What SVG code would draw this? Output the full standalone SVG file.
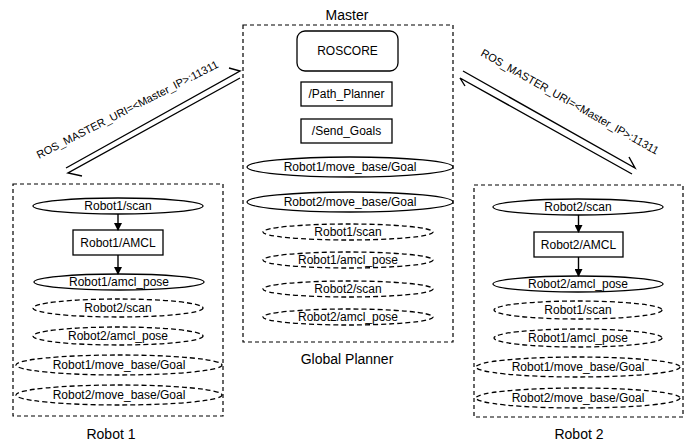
<svg xmlns="http://www.w3.org/2000/svg" width="686" height="441" viewBox="0 0 686 441">
<style>
text{font-family:"Liberation Sans",Arial,sans-serif;font-size:12px;fill:#000;text-anchor:middle}
.t14{font-size:14px}
.lbl{font-size:11px}
.box{fill:none;stroke:#000;stroke-width:1.2;stroke-dasharray:4 3}
.sol{fill:#fff;stroke:#000;stroke-width:1.3}
.das{fill:#fff;stroke:#000;stroke-width:1.3;stroke-dasharray:5 3}
.ln{fill:none;stroke:#000;stroke-width:1.4}
</style>
<defs>
<marker id="ah" markerWidth="8" markerHeight="8" refX="7" refY="4" orient="auto" markerUnits="userSpaceOnUse">
<path d="M0,0 L8,4 L0,8 z" fill="#000"/>
</marker>
</defs>
<rect width="686" height="441" fill="#fff"/>

<g id="master">
<rect class="box" x="243" y="25" width="210" height="317"/>
<text class="t14" x="347" y="20">Master</text>
<text class="t14" x="347" y="364">Global Planner</text>
</g>
<g id="roscore"><rect class="sol" x="297" y="31" width="101" height="40" rx="8"/><text x="347.5" y="55">ROSCORE</text></g>
<g id="path_planner"><rect class="sol" x="301" y="82" width="91" height="24"/><text x="346.5" y="98">/Path_Planner</text></g>
<g id="send_goals"><rect class="sol" x="301" y="119" width="91" height="24"/><text x="346.5" y="135">/Send_Goals</text></g>
<g id="m_r1goal"><ellipse class="sol" cx="350" cy="167" rx="103" ry="10"/><text x="350" y="171">Robot1/move_base/Goal</text></g>
<g id="m_r2goal"><ellipse class="sol" cx="350" cy="202" rx="103" ry="10"/><text x="350" y="206">Robot2/move_base/Goal</text></g>
<g id="m_r1scan"><ellipse class="das" cx="348" cy="232" rx="85" ry="8"/><text x="348" y="236">Robot1/scan</text></g>
<g id="m_r1pose"><ellipse class="das" cx="348" cy="260" rx="85" ry="8"/><text x="348" y="264">Robot1/amcl_pose</text></g>
<g id="m_r2scan"><ellipse class="das" cx="348" cy="289" rx="85" ry="8"/><text x="348" y="293">Robot2/scan</text></g>
<g id="m_r2pose"><ellipse class="das" cx="348" cy="317" rx="85" ry="8"/><text x="348" y="321">Robot2/amcl_pose</text></g>

<g id="robot1">
<rect class="box" x="13" y="184" width="210" height="232"/>
<text class="t14" x="111" y="439">Robot 1</text>
</g>
<g id="r1_scan"><ellipse class="sol" cx="118" cy="206" rx="85" ry="8"/><text x="118" y="210">Robot1/scan</text></g>
<g id="r1_amcl"><rect class="sol" x="73" y="230" width="90" height="25"/><text x="118" y="247">Robot1/AMCL</text></g>
<g id="r1_pose"><ellipse class="sol" cx="119" cy="282" rx="85" ry="8"/><text x="119" y="286">Robot1/amcl_pose</text></g>
<g id="r1_r2scan"><ellipse class="das" cx="118" cy="308" rx="85" ry="9"/><text x="118" y="312">Robot2/scan</text></g>
<g id="r1_r2pose"><ellipse class="das" cx="118" cy="336" rx="85" ry="9"/><text x="118" y="340">Robot2/amcl_pose</text></g>
<g id="r1_r1goal"><ellipse class="das" cx="119" cy="365" rx="103" ry="10"/><text x="119" y="369">Robot1/move_base/Goal</text></g>
<g id="r1_r2goal"><ellipse class="das" cx="119" cy="395" rx="103" ry="10"/><text x="119" y="399">Robot2/move_base/Goal</text></g>

<g id="robot2">
<rect class="box" x="474" y="185" width="209" height="232"/>
<text class="t14" x="579" y="439">Robot 2</text>
</g>
<g id="r2_scan"><ellipse class="sol" cx="578" cy="207" rx="85" ry="8"/><text x="578" y="211">Robot2/scan</text></g>
<g id="r2_amcl"><rect class="sol" x="534" y="232" width="89" height="25"/><text x="578.5" y="249">Robot2/AMCL</text></g>
<g id="r2_pose"><ellipse class="sol" cx="578" cy="284" rx="85" ry="8"/><text x="578" y="288">Robot2/amcl_pose</text></g>
<g id="r2_r1scan"><ellipse class="das" cx="578" cy="310" rx="84" ry="9"/><text x="578" y="314">Robot1/scan</text></g>
<g id="r2_r1pose"><ellipse class="das" cx="578" cy="338" rx="84" ry="9"/><text x="578" y="342">Robot1/amcl_pose</text></g>
<g id="r2_r1goal"><ellipse class="das" cx="578" cy="367" rx="102" ry="10"/><text x="578" y="371">Robot1/move_base/Goal</text></g>
<g id="r2_r2goal"><ellipse class="das" cx="578" cy="398" rx="102" ry="10"/><text x="578" y="402">Robot2/move_base/Goal</text></g>

<g id="connectors">
<line class="ln" x1="118" y1="214" x2="118" y2="230" marker-end="url(#ah)"/>
<line class="ln" x1="118" y1="255" x2="118" y2="274" marker-end="url(#ah)"/>
<line class="ln" x1="578.5" y1="215" x2="578.5" y2="232" marker-end="url(#ah)"/>
<line class="ln" x1="578.5" y1="257" x2="578.5" y2="276" marker-end="url(#ah)"/>
<path class="ln" d="M66,168 L240,71 L229,68"/>
<path class="ln" d="M240,78 L68,173 L82,176"/>
<path class="ln" d="M463,71 L635,168 L629,157"/>
<path class="ln" d="M632,174 L460,78 L465,86"/>
<text class="lbl" transform="translate(129,113) rotate(-27)" x="0" y="0">ROS_MASTER_URI=&lt;Master_IP&gt;:11311</text>
<text class="lbl" transform="translate(568,105) rotate(29.5)" x="0" y="0">ROS_MASTER_URI=&lt;Master_IP&gt;:11311</text>
</g>
</svg>
